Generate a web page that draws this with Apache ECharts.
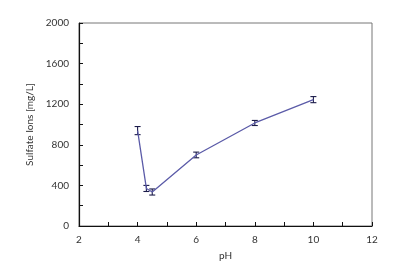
<!DOCTYPE html>
<html><head><meta charset="utf-8">
<script src="https://cdn.jsdelivr.net/npm/echarts@6/dist/echarts.min.js"></script>
<style>html,body{margin:0;padding:0;background:#fff}#c{width:393px;height:268px}</style>
</head><body><div id="c"></div>
<script>
const pH = [4, 4.3, 4.5, 6, 8, 10];
const sulfate = [940, 370, 335, 700, 1015, 1245];
const errors = [40, 30, 30, 28, 25, 30];
const xTicks = [2, 4, 6, 8, 10, 12];
const yTicks = [0, 400, 800, 1200, 1600, 2000];

const chart = echarts.init(document.getElementById('c'));
const font = 'Lato';
chart.setOption({
  animation: false,
  grid: {left: 79, right: 21, top: 23, bottom: 42, show: true, borderColor: '#777', borderWidth: 1},
  xAxis: {
    type: 'value', min: xTicks[0], max: xTicks[xTicks.length-1], interval: 2,
    name: 'pH', nameLocation: 'middle', nameGap: 25,
    nameTextStyle: {fontFamily: font, fontSize: 10, color: '#333'},
    axisLine: {lineStyle: {color: '#111', width: 1.2}},
    axisTick: {inside: true, length: 4, lineStyle: {color: '#111'}},
    minorTick: {show: true, splitNumber: 2, length: 4, lineStyle: {color: '#111'}},
    axisLabel: {fontFamily: font, fontSize: 10, color: '#333', margin: 9, formatter: v => String(v)},
    splitLine: {show: false}
  },
  yAxis: {
    type: 'value', min: yTicks[0], max: yTicks[yTicks.length-1], interval: 400,
    name: 'Sulfate Ions [mg/L]', nameLocation: 'middle', nameGap: 43,
    nameTextStyle: {fontFamily: font, fontSize: 10, color: '#333'},
    axisLine: {show: true, lineStyle: {color: '#111', width: 1.2}},
    axisTick: {inside: true, length: 4, lineStyle: {color: '#111'}},
    minorTick: {show: true, splitNumber: 2, length: 4, lineStyle: {color: '#111'}},
    axisLabel: {fontFamily: font, fontSize: 10, color: '#333', margin: 10, formatter: v => String(v)},
    splitLine: {show: false}
  },
  series: [
    {type: 'line', data: pH.map((x,i)=>[x, sulfate[i]]), symbol: 'none',
     lineStyle: {color: '#5b5ba8', width: 1.3}},
    {type: 'custom', data: pH.map((x,i)=>[x, sulfate[i]-errors[i], sulfate[i]+errors[i]]),
     renderItem: function(params, api){
       const lo = api.coord([api.value(0), api.value(1)]);
       const hi = api.coord([api.value(0), api.value(2)]);
       const w = 3;
       const st = {stroke: '#1c1c4a', lineWidth: 1.1};
       return {type: 'group', children: [
         {type: 'line', shape: {x1: lo[0], y1: lo[1], x2: hi[0], y2: hi[1]}, style: st},
         {type: 'line', shape: {x1: lo[0]-w, y1: lo[1], x2: lo[0]+w, y2: lo[1]}, style: st},
         {type: 'line', shape: {x1: hi[0]-w, y1: hi[1], x2: hi[0]+w, y2: hi[1]}, style: st}
       ]};
     }, z: 3}
  ]
});
</script></body></html>
